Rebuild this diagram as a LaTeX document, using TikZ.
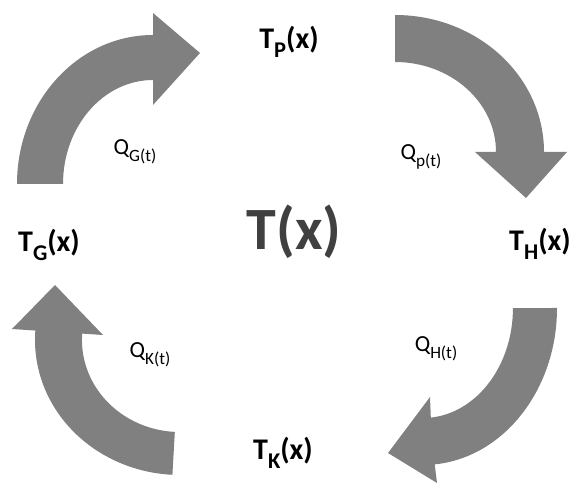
\documentclass[tikz,border=0pt]{standalone}
\usepackage{fontspec}
\setmainfont{Carlito}
\definecolor{arrowgray}{RGB}{128,128,128}
\definecolor{textdark}{RGB}{64,64,64}
\newcommand{\tsub}[2]{#1\raisebox{-0.3em}{\scalebox{0.75}{#2}}}

\begin{document}
\begin{tikzpicture}[x=1pt, y=1pt,
    blockarrow/.style={fill=arrowgray},
    lbl/.style={anchor=base, inner sep=0pt, font=\fontsize{30}{36}\selectfont\bfseries},
    qlbl/.style={anchor=base, inner sep=0pt, font=\fontsize{23}{28}\selectfont}]
    \useasboundingbox (0,0) rectangle (572,484);

    % Centre
    \node[anchor=base, inner sep=0pt, text=textdark, font=\fontsize{60}{72}\selectfont\bfseries] (tx) at (294,234) {T(x)};

    % Temperatures
    \foreach \n/\s/\x/\y in {tp/P/289/435, th/H/540/233, tk/K/283/25, tg/G/49/232} {
        \node[lbl] (\n) at (\x,\y) {\tsub{T}{\s}(x)};
    }

    % Heat flows
    \foreach \n/\s/\x/\y in {qp/p/421/324, qh/H/436/132, qk/K/150/126, qg/G/135/329} {
        \node[qlbl] (\n) at (\x,\y) {\tsub{Q}{\s(t)}};
    }

    % Curved arrows (G -> P -> H -> K -> G)
    \fill[blockarrow, shift={(153,300)}] (-136,0)
        arc[start angle=180, end angle=90, x radius=136, y radius=149]
        -- (0,171) -- (47,131) -- (0,79) -- (0,104)
        arc[start angle=90, end angle=180, x radius=90, y radius=104] -- cycle;
    \fill[blockarrow, shift={(395,332)}] (0,137)
        arc[start angle=90, end angle=0, x radius=149, y radius=137]
        -- (172,0) -- (131,-46) -- (80,0) -- (101,0)
        arc[start angle=0, end angle=90, x radius=101, y radius=90] -- cycle;
    \fill[blockarrow, shift={(423,176)}] (134,0)
        arc[start angle=0, end angle=-85, x radius=134, y radius=157]
        -- (14,-175) -- (-35,-145) -- (7,-89) -- (7.8,-109.6)
        arc[start angle=-85, end angle=0, x radius=90, y radius=110] -- cycle;
    \fill[blockarrow, shift={(180,144)}] (-7.6,-134.8)
        arc[start angle=-93, end angle=-184, x radius=145, y radius=135]
        -- (-168,11) -- (-125,55) -- (-77,5) -- (-97.8,6.4)
        arc[start angle=176, end angle=267, x radius=98, y radius=92] -- cycle;
\end{tikzpicture}
\end{document}
